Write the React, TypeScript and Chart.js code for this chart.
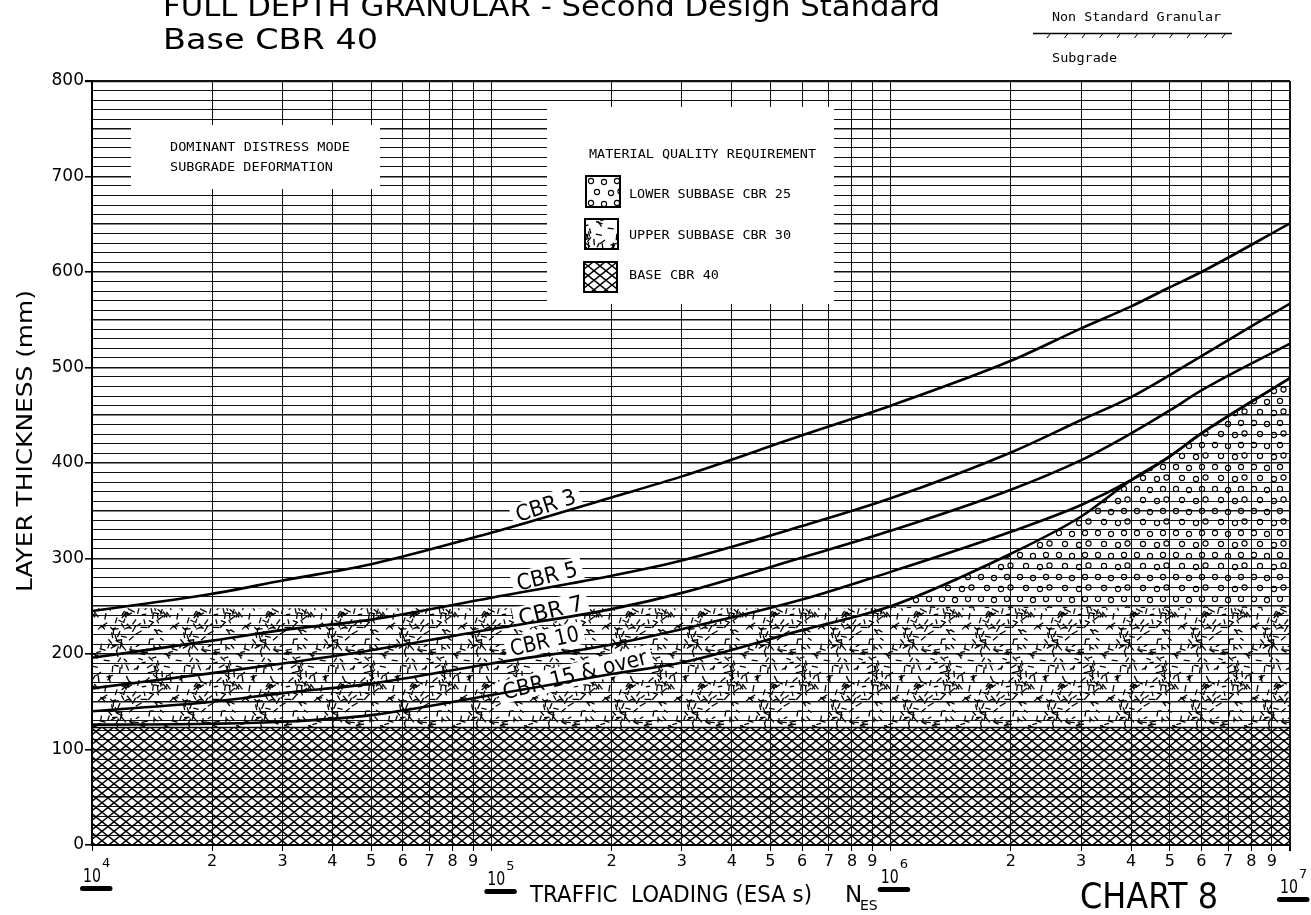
import React, { useEffect, useRef } from 'react';
import { Chart, registerables } from 'chart.js';

Chart.register(...registerables);

// ---------------- data ----------------
const loading = [1e4, 2e4, 3e4, 5e4, 1e5, 2e5, 3e5, 6e5, 1e6, 2e6, 3e6, 4e6, 5e6, 6e6, 1e7];
const cbr3 = [245, 263, 277, 294, 327, 364, 386, 429, 460, 507, 541, 564, 584, 600, 651];
const cbr5 = [196, 214, 225, 236, 259, 282, 298, 334, 363, 411, 445, 469, 492, 512, 567];
const cbr7 = [164, 180, 190, 204, 226, 247, 264, 301, 329, 372, 403, 431, 455, 476, 525];
const cbr10 = [140, 150, 159, 169, 190, 210, 226, 257, 286, 328, 356, 382, 407, 431, 489];
const cbr15 = [126, 127, 129, 136, 157, 179, 191, 225, 250, 305, 344, 382, 407, 431, 489];

const layerExtent = [1e4, 1e7];
const baseTop = [123, 123];
const upperSubbaseTop = [248, 248];

const curveNames = ['CBR 3', 'CBR 5', 'CBR 7', 'CBR 10', 'CBR 15 & over'];
const curveSeries = [cbr3, cbr5, cbr7, cbr10, cbr15];

const xTickValues = [
  10000, 20000, 30000, 40000, 50000, 60000, 70000, 80000, 90000,
  100000, 200000, 300000, 400000, 500000, 600000, 700000, 800000, 900000,
  1000000, 2000000, 3000000, 4000000, 5000000, 6000000, 7000000, 8000000, 9000000,
  10000000,
];
const xTickLabels = [
  '', '2', '3', '4', '5', '6', '7', '8', '9',
  '', '2', '3', '4', '5', '6', '7', '8', '9',
  '', '2', '3', '4', '5', '6', '7', '8', '9',
  '',
];
const decadeValues = [1e4, 1e5, 1e6, 1e7];
const decadeExponents = ['4', '5', '6', '7'];
const yLabelStep = 100;
const yGridStep = 10;

const chartTitle = 'FULL DEPTH GRANULAR - Second Design Standard';
const chartSubtitle = 'Base CBR 40';
const yAxisTitle = 'LAYER THICKNESS (mm)';
const xAxisTitle = 'TRAFFIC  LOADING (ESA s)';
const chartNumber = 'CHART 8';
const distressLines = ['DOMINANT DISTRESS MODE', 'SUBGRADE DEFORMATION'];
const materialTitle = 'MATERIAL QUALITY REQUIREMENT';
const materialItems = ['LOWER SUBBASE CBR 25', 'UPPER SUBBASE CBR 30', 'BASE CBR 40'];
const keyTop = 'Non Standard Granular';
const keyBottom = 'Subgrade';

// ---------------- styles / placements ----------------
const W = 1311;
const H = 915;
const SANS = '"DejaVu Sans"';
const MONO = '"DejaVu Sans Mono"';

// label anchor (data coords), angle (deg), fitted width (px)
const curveLabelPlacement = [
  { at: [1.37e5, 355], angle: -18, width: 62 },
  { at: [1.38e5, 281], angle: -14, width: 62 },
  { at: [1.41e5, 245], angle: -14, width: 66 },
  { at: [1.36e5, 213], angle: -13, width: 70 },
  { at: [1.62e5, 178], angle: -14, width: 148 },
];
const decadeDy = [0, 3, 1, 11];
const decadeDx = [-9, -4, -10, -10];

function rng(seed: number) {
  let a = seed >>> 0;
  return () => {
    a = (a + 0x6d2b79f5) >>> 0;
    let t = a;
    t = Math.imul(t ^ (t >>> 15), t | 1);
    t ^= t + Math.imul(t ^ (t >>> 7), t | 61);
    return ((t ^ (t >>> 14)) >>> 0) / 4294967296;
  };
}

function makeCrosshatch(): CanvasPattern {
  const c = document.createElement('canvas');
  c.width = 24;
  c.height = 19;
  const g = c.getContext('2d') as CanvasRenderingContext2D;
  g.strokeStyle = '#000';
  g.lineWidth = 1.45;
  for (let k = -3; k <= 3; k++) {
    const x0 = k * 12;
    g.beginPath();
    g.moveTo(x0, 0);
    g.lineTo(x0 + 24, 19);
    g.stroke();
    g.beginPath();
    g.moveTo(x0 + 24, 0);
    g.lineTo(x0, 19);
    g.stroke();
  }
  return g.createPattern(c, 'repeat') as CanvasPattern;
}

function makeDashes(): CanvasPattern {
  const S = 72;
  const c = document.createElement('canvas');
  c.width = S;
  c.height = S;
  const g = c.getContext('2d') as CanvasRenderingContext2D;
  g.strokeStyle = '#000';
  g.lineWidth = 1.3;
  const r = rng(7);
  for (let i = 0; i < 120; i++) {
    const x = r() * S;
    const y = r() * S;
    const a = r() * Math.PI;
    const L = 4 + r() * 3;
    const dx = (Math.cos(a) * L) / 2;
    const dy = (Math.sin(a) * L) / 2;
    for (const ox of [-S, 0, S]) {
      for (const oy of [-S, 0, S]) {
        g.beginPath();
        g.moveTo(x + ox - dx, y + oy - dy);
        g.lineTo(x + ox + dx, y + oy + dy);
        g.stroke();
      }
    }
  }
  return g.createPattern(c, 'repeat') as CanvasPattern;
}

function makeCircles(): CanvasPattern {
  const c = document.createElement('canvas');
  c.width = 39;
  c.height = 22;
  const g = c.getContext('2d') as CanvasRenderingContext2D;
  g.strokeStyle = '#000';
  g.lineWidth = 1.1;
  const pts = [
    [6, 5], [19, 6], [32, 5],
    [12, 16], [26, 17], [35.5, 15.5],
  ];
  for (const [x, y] of pts) {
    g.beginPath();
    g.arc(x, y, 2.6, 0, Math.PI * 2);
    g.stroke();
  }
  return g.createPattern(c, 'repeat') as CanvasPattern;
}

function fitText(ctx: CanvasRenderingContext2D, text: string, x: number, y: number, width: number, font: string, align: CanvasTextAlign = 'left') {
  ctx.save();
  ctx.font = font;
  const w = ctx.measureText(text).width || 1;
  ctx.translate(x, y);
  ctx.scale(width / w, 1);
  ctx.textAlign = align;
  ctx.fillText(text, 0, 0);
  ctx.restore();
}

export default function App() {
  const ref = useRef<HTMLCanvasElement | null>(null);

  useEffect(() => {
    const canvas = ref.current;
    if (!canvas) return;
    const crosshatch = makeCrosshatch();
    const dashes = makeDashes();
    const circles = makeCircles();

    const overlay = {
      id: 'overlay',
      beforeDatasetsDraw(chart: any) {
        const ctx: CanvasRenderingContext2D = chart.ctx;
        const xs = chart.scales.x;
        const ys = chart.scales.y;
        ctx.save();
        ctx.fillStyle = '#000';
        ctx.textBaseline = 'alphabetic';

        // distress mode box
        ctx.fillStyle = '#fff';
        ctx.fillRect(131, 125, 249, 64);
        ctx.fillStyle = '#000';
        fitText(ctx, distressLines[0], 170, 151, 180, `13px ${MONO}`);
        fitText(ctx, distressLines[1], 170, 171, 163, `13px ${MONO}`);

        // material box
        ctx.fillStyle = '#fff';
        ctx.fillRect(547, 107, 287, 197);
        ctx.fillStyle = '#000';
        fitText(ctx, materialTitle, 589, 158, 227, `13px ${MONO}`);
        const sw = [
          { x: 586, y: 176, w: 34, h: 31, p: circles },
          { x: 585, y: 219, w: 33, h: 30, p: dashes },
          { x: 584, y: 262, w: 33, h: 30, p: crosshatch },
        ];
        const baselines = [198, 239, 279];
        const widths = [162, 162, 90];
        sw.forEach((s, i) => {
          ctx.fillStyle = s.p;
          ctx.fillRect(s.x, s.y, s.w, s.h);
          ctx.strokeStyle = '#000';
          ctx.lineWidth = 2;
          ctx.strokeRect(s.x, s.y, s.w, s.h);
          ctx.fillStyle = '#000';
          fitText(ctx, materialItems[i], 629, baselines[i], widths[i], `13px ${MONO}`);
        });

        // curve labels
        curveLabelPlacement.forEach((lb, i) => {
          const px = xs.getPixelForValue(lb.at[0]);
          const py = ys.getPixelForValue(lb.at[1]);
          ctx.save();
          ctx.translate(px, py);
          ctx.rotate((lb.angle * Math.PI) / 180);
          ctx.fillStyle = '#fff';
          ctx.fillRect(-lb.width / 2 - 5, -12, lb.width + 10, 23);
          ctx.font = `22px ${SANS}`;
          const w = ctx.measureText(curveNames[i]).width;
          ctx.scale(lb.width / w, 1);
          ctx.fillStyle = '#000';
          ctx.textAlign = 'center';
          ctx.textBaseline = 'middle';
          ctx.fillText(curveNames[i], 0, 1);
          ctx.restore();
        });
        ctx.restore();
      },
      afterDraw(chart: any) {
        const ctx: CanvasRenderingContext2D = chart.ctx;
        const xs = chart.scales.x;
        ctx.save();
        ctx.fillStyle = '#000';
        ctx.textBaseline = 'alphabetic';

        // titles
        fitText(ctx, chartTitle, 163, 16, 777, `29px ${SANS}`);
        fitText(ctx, chartSubtitle, 163, 49, 215, `29px ${SANS}`);

        // key at top right
        fitText(ctx, keyTop, 1052, 21, 169, `13px ${MONO}`);
        fitText(ctx, keyBottom, 1052, 62, 65, `13px ${MONO}`);
        ctx.strokeStyle = '#000';
        ctx.lineWidth = 1.5;
        ctx.beginPath();
        ctx.moveTo(1033, 33.5);
        ctx.lineTo(1232, 33.5);
        ctx.stroke();
        ctx.lineWidth = 1;
        for (let x = 1050; x <= 1228; x += 17.5) {
          ctx.beginPath();
          ctx.moveTo(x, 34);
          ctx.lineTo(x - 3, 38);
          ctx.stroke();
        }

        // y axis title
        ctx.save();
        ctx.translate(32, 441);
        ctx.rotate(-Math.PI / 2);
        fitText(ctx, yAxisTitle, 0, 0, 302, `22px ${SANS}`, 'center');
        ctx.restore();

        // x axis title
        fitText(ctx, xAxisTitle, 530, 902, 282, `23px ${SANS}`);
        ctx.font = `23px ${SANS}`;
        ctx.fillText('N', 845, 902);
        ctx.font = `14px ${SANS}`;
        ctx.fillText('ES', 860, 910);

        // chart number
        fitText(ctx, chartNumber, 1080, 908, 138, `36px ${SANS}`);

        // decade labels
        decadeValues.forEach((v, i) => {
          const px = xs.getPixelForValue(v);
          const dy = decadeDy[i];
          const lx = px + decadeDx[i];
          fitText(ctx, '10', lx, 882 + dy, 18, `19px ${SANS}`);
          ctx.font = `13px ${SANS}`;
          ctx.fillText(decadeExponents[i], lx + 19, 867 + dy);
          ctx.beginPath();
          const bx = lx - 3;
          const by = 886 + dy;
          ctx.moveTo(bx + 2.5, by);
          ctx.lineTo(bx + 30, by);
          ctx.arc(bx + 30, by + 2.5, 2.5, -Math.PI / 2, Math.PI / 2);
          ctx.lineTo(bx + 2.5, by + 5);
          ctx.arc(bx + 2.5, by + 2.5, 2.5, Math.PI / 2, (3 * Math.PI) / 2);
          ctx.fill();
        });
        ctx.restore();
      },
    };

    const toPts = (ys: number[]) => ys.map((y, i) => ({ x: loading[i], y }));
    const extentPts = (ys: number[]) => ys.map((y, i) => ({ x: layerExtent[i], y }));

    const datasets: any[] = [
      {
        label: 'Base CBR 40',
        data: extentPts(baseTop),
        borderColor: '#000',
        borderWidth: 1.6,
        pointRadius: 0,
        fill: 'origin',
        backgroundColor: crosshatch,
      },
      {
        label: 'Upper subbase CBR 30',
        data: extentPts(upperSubbaseTop),
        borderColor: 'rgba(0,0,0,0)',
        borderWidth: 1,
        pointRadius: 0,
        fill: 0,
        backgroundColor: dashes,
      },
      {
        label: 'Lower subbase CBR 25',
        data: toPts(cbr15),
        borderColor: 'rgba(0,0,0,0)',
        borderWidth: 1,
        pointRadius: 0,
        cubicInterpolationMode: 'monotone',
        fill: { target: { value: upperSubbaseTop[0] }, above: circles, below: 'rgba(0,0,0,0)' },
      },
      ...curveSeries.map((s, i) => ({
        label: curveNames[i],
        data: toPts(s),
        borderColor: '#000',
        borderWidth: 2.6,
        pointRadius: 0,
        cubicInterpolationMode: 'monotone',
        fill: false,
      })),
    ];

    const chart = new Chart(canvas, {
      type: 'line',
      data: { datasets },
      plugins: [overlay],
      options: {
        animation: false,
        responsive: false,
        events: [],
        layout: { padding: { left: 0, top: 81, right: 21, bottom: 0 } },
        plugins: {
          legend: { display: false },
          tooltip: { enabled: false },
          title: { display: false },
          filler: { drawTime: 'beforeDatasetsDraw' },
        },
        scales: {
          x: {
            type: 'logarithmic',
            min: 1e4,
            max: 1e7,
            position: 'bottom',
            afterBuildTicks: (s: any) => {
              s.ticks = xTickValues.map((v) => ({ value: v }));
            },
            afterFit: (s: any) => {
              s.height = 70;
            },
            ticks: {
              autoSkip: false,
              maxRotation: 0,
              minRotation: 0,
              padding: 1,
              color: '#000',
              font: { family: 'DejaVu Sans', size: 16 },
              callback: (_v: any, i: number) => xTickLabels[i],
            },
            grid: {
              color: '#111',
              lineWidth: (c: any) => (c.tick && c.tick.value === 1e7 ? 2 : 1),
              tickLength: 6,
              tickColor: '#000',
            },
            border: { display: true, color: '#000', width: 2 },
          },
          y: {
            type: 'linear',
            min: 0,
            max: 800,
            position: 'left',
            afterBuildTicks: (s: any) => {
              const t: any[] = [];
              for (let v = 0; v <= 800; v += yGridStep) t.push({ value: v });
              s.ticks = t;
            },
            afterFit: (s: any) => {
              s.width = 92;
            },
            ticks: {
              autoSkip: false,
              padding: 1,
              color: '#000',
              font: { family: 'DejaVu Sans', size: 17 },
              callback: (v: any) => (Number(v) % yLabelStep === 0 ? String(v) : ''),
            },
            grid: {
              color: '#111',
              lineWidth: (c: any) => {
                const v = c.tick ? c.tick.value : 0;
                if (v === 800) return 2.2;
                return v % 50 === 0 ? 1.6 : 1.1;
              },
              tickLength: 7,
              tickColor: (c: any) => (c.tick && c.tick.value % yLabelStep === 0 ? '#000' : 'rgba(0,0,0,0)'),
            },
            border: { display: true, color: '#000', width: 2 },
          },
        },
      } as any,
    });
    return () => chart.destroy();
  }, []);

  return (
    <div style={{ position: 'absolute', left: 0, top: 0, width: W, height: H, background: '#fff' }}>
      <canvas ref={ref} width={W} height={H} style={{ display: 'block', width: W, height: H }} />
    </div>
  );
}
